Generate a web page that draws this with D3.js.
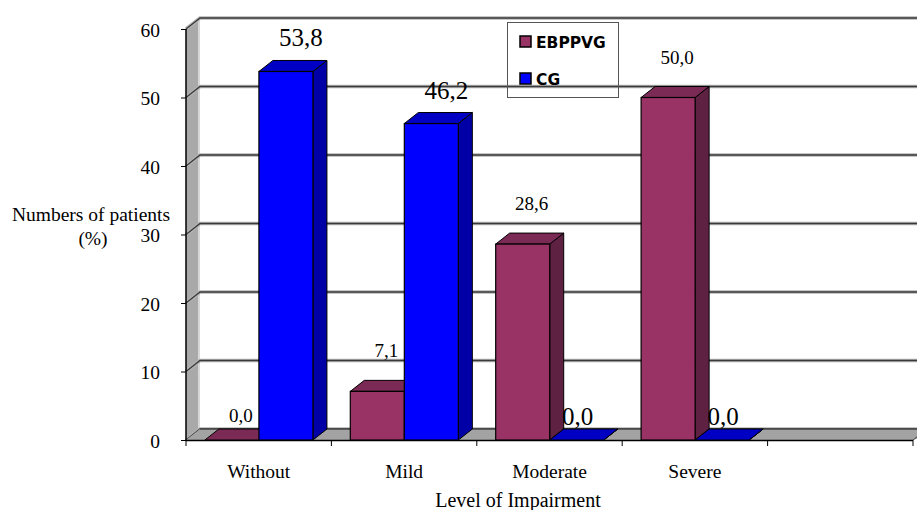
<!DOCTYPE html>
<html><head><meta charset="utf-8">
<script src="https://cdn.jsdelivr.net/npm/d3@7"></script>
<style>body{margin:0;background:#fff}svg{display:block}</style>
</head><body>
<svg id="c" width="917" height="510"></svg>
<script>
const categories = ["Without", "Mild", "Moderate", "Severe", ""];
const series = ["EBPPVG", "CG"];
const ebppvg = [0.0, 7.1, 28.6, 50.0];
const cg = [53.8, 46.2, 0.0, 0.0];
const yTicks = [0, 10, 20, 30, 40, 50, 60];
const xTitle = "Level of Impairment";
const yTitle = ["Numbers of patients", "(%)"];

const colors = {
  EBPPVG: {front: "#993366", top: "#7b2a55", side: "#5f2142"},
  CG: {front: "#0000ff", top: "#0000c4", side: "#0000a6"}
};

const svg = d3.select("#c");
const DX = 14, DY = -11;
const x0 = d3.scaleBand().domain(categories.map((c, i) => i)).range([186, 913]).padding(0);
const bw = x0.bandwidth();
const x1 = d3.scaleBand().domain(series).range([0.13 * bw, 0.873 * bw]).padding(0);
const y = d3.scaleLinear().domain([0, 60]).range([440, 29]);
const fmt = v => d3.format(".1f")(v).replace(".", ",");

const xL = 186, xR = 913;
// back wall
svg.append("polygon").attr("points", [[xL + DX, y(60) + DY], [xR + DX + 20, y(60) + DY], [xR + DX + 20, y(0) + DY], [xL + DX, y(0) + DY]].join(" ")).attr("fill", "#fff");
// side wall
svg.append("polygon").attr("points", [[xL, y(0)], [xL, y(60)], [xL + DX, y(60) + DY], [xL + DX, y(0) + DY]].join(" "))
  .attr("fill", "#a9a9a9");
svg.append("line").attr("x1", xL + DX - 1).attr("x2", xL + DX - 1).attr("y1", y(60) + DY).attr("y2", y(0) + DY).attr("stroke", "#d8d8d8").attr("stroke-width", 2);
// gridlines
yTicks.forEach(t => {
  const yy = y(t);
  const g = svg.append("g");
  g.append("polyline").attr("points", [[xL, yy], [xL + DX, yy + DY], [xR + DX + 20, yy + DY]].join(" "))
    .attr("fill", "none").attr("stroke", "#b5b5b5").attr("stroke-width", 3.5);
  g.append("polyline").attr("points", [[xL, yy], [xL + DX, yy + DY], [xR + DX + 20, yy + DY]].join(" "))
    .attr("fill", "none").attr("stroke", "#3a3a3a").attr("stroke-width", 1.3);
});
// floor
svg.append("polygon").attr("points", [[xL, y(0)], [xL + DX, y(0) + DY], [xR + DX + 20, y(0) + DY], [xR, y(0)]].join(" "))
  .attr("fill", "#a3a3a3").attr("stroke", "none");
svg.append("line").attr("x1", xL + DX).attr("x2", 917).attr("y1", y(0) + DY).attr("y2", y(0) + DY).attr("stroke", "#444").attr("stroke-width", 1.3);
svg.append("line").attr("x1", xR).attr("x2", xR + DX).attr("y1", y(0)).attr("y2", y(0) + DY).attr("stroke", "#444").attr("stroke-width", 1);
// axes lines
svg.append("line").attr("x1", xL).attr("x2", xL).attr("y1", y(60)).attr("y2", y(0)).attr("stroke", "#000").attr("stroke-width", 1.5);
svg.append("line").attr("x1", xL).attr("x2", xR).attr("y1", y(0) + 0.5).attr("y2", y(0) + 0.5).attr("stroke", "#000").attr("stroke-width", 1.5);

// y axis ticks + labels
const yAxis = d3.axisLeft(y).tickValues(yTicks).tickSize(5).tickPadding(21).tickFormat(d3.format("d"));
const ya = svg.append("g").attr("transform", `translate(${xL},0)`).call(yAxis);
ya.select(".domain").remove();
ya.selectAll("line").attr("stroke", "#000");
ya.selectAll("text").attr("font-family", "Liberation Serif").attr("font-size", 19.5).attr("fill", "#000").attr("dy", "0.38em");

// x axis ticks (at band boundaries) + labels
const xa = svg.append("g");
categories.map((c, i) => i).concat([categories.length]).forEach(i => {
  const xx = i < categories.length ? x0(i) : xR;
  xa.append("line").attr("x1", xx).attr("x2", xx).attr("y1", y(0)).attr("y2", y(0) + 6).attr("stroke", "#000");
});
categories.forEach((c, i) => {
  xa.append("text").attr("x", x0(i) + bw / 2).attr("y", 478).attr("text-anchor", "middle")
    .attr("font-family", "Liberation Serif").attr("font-size", 19.5).text(c);
});

// bars
const data = categories.slice(0, 4).map((c, i) => ({i, vals: [["EBPPVG", ebppvg[i]], ["CG", cg[i]]]}));
data.forEach(d => {
  d.vals.forEach(([s, v]) => {
    const xa_ = x0(d.i) + x1(s), xb = xa_ + x1.bandwidth();
    const yt = y(v), yb = y(0);
    const col = colors[s];
    const g = svg.append("g");
    g.append("polygon").attr("points", [[xb, yb], [xb, yt], [xb + DX, yt + DY], [xb + DX, yb + DY]].join(" "))
      .attr("fill", col.side).attr("stroke", "#000").attr("stroke-width", 1).attr("stroke-linejoin", "round");
    g.append("polygon").attr("points", [[xa_, yt], [xb, yt], [xb + DX, yt + DY], [xa_ + DX, yt + DY]].join(" "))
      .attr("fill", col.top).attr("stroke", "#000").attr("stroke-width", 1).attr("stroke-linejoin", "round");
    if (v > 0) g.append("rect").attr("x", xa_).attr("y", yt).attr("width", xb - xa_).attr("height", yb - yt)
      .attr("fill", col.front).attr("stroke", "#000").attr("stroke-width", 1.2);
  });
});

// value labels
data.forEach(d => {
  d.vals.forEach(([s, v]) => {
    const cx = x0(d.i) + x1(s) + x1.bandwidth() / 2;
    let tx, ty, fs;
    if (s === "EBPPVG") { tx = cx + 9; ty = y(v) - (v > 0 ? 34 : 18); fs = 19; }
    else { tx = cx + (v > 0 ? 15 : 1); ty = y(v) - (v > 0 ? 25 : 15); fs = 25; }
    svg.append("text").attr("x", tx).attr("y", ty).attr("text-anchor", "middle")
      .attr("font-family", "Liberation Serif").attr("font-size", fs).attr("fill", "#000").text(fmt(v));
  });
});

// titles
svg.append("text").attr("x", 518).attr("y", 507).attr("text-anchor", "middle")
  .attr("font-family", "Liberation Serif").attr("font-size", 20).text(xTitle);
svg.append("text").attr("x", 91).attr("y", 221).attr("text-anchor", "middle")
  .attr("font-family", "Liberation Serif").attr("font-size", 19.5).text(yTitle[0]);
svg.append("text").attr("x", 93).attr("y", 245).attr("text-anchor", "middle")
  .attr("font-family", "Liberation Serif").attr("font-size", 19.5).text(yTitle[1]);

// legend
const lg = svg.append("g");
lg.append("rect").attr("x", 507.5).attr("y", 22.5).attr("width", 111).attr("height", 75)
  .attr("fill", "none").attr("stroke", "#555").attr("stroke-width", 1);
series.forEach((s, i) => {
  const yy = 36 + i * 37;
  lg.append("rect").attr("x", 520).attr("y", yy).attr("width", 11).attr("height", 11)
    .attr("fill", colors[s].front).attr("stroke", "#000").attr("stroke-width", 1.5);
  lg.append("text").attr("x", 536).attr("y", yy + 11.5).attr("font-family", "DejaVu Sans").attr("font-weight", "bold")
    .attr("font-size", 15.5).text(s);
});
</script>
</body></html>
